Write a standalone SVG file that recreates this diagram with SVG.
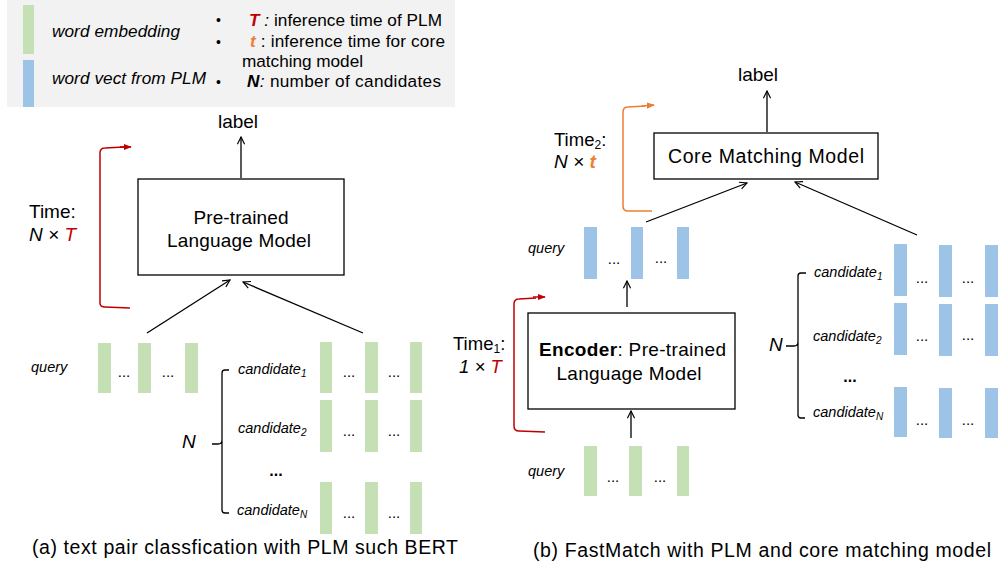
<svg xmlns="http://www.w3.org/2000/svg" width="998" height="568" viewBox="0 0 998 568">
<defs>
<style>
text{font-family:"Liberation Sans",Arial,sans-serif;fill:#000}
.it{font-style:italic}
.g{fill:#c5e0b4}
.b{fill:#9dc3e6}
.box{fill:#fff;stroke:#000;stroke-width:1.3}
.con{fill:none;stroke:#000;stroke-width:1.3;marker-end:url(#open)}
.brk{fill:none;stroke:#000;stroke-width:1.3}
.dots{font-size:15px}
.cand{font-size:14.5px;font-style:italic}
.leg{font-size:17.2px}
</style>
<marker id="open" viewBox="0 0 10 10" refX="9" refY="5" markerWidth="9" markerHeight="9" markerUnits="userSpaceOnUse" orient="auto">
<path d="M1,1 L9,5 L1,9" fill="none" stroke="#000" stroke-width="1.3"/>
</marker>
<marker id="redh" viewBox="0 0 10 10" refX="9" refY="5" markerWidth="8" markerHeight="8" markerUnits="userSpaceOnUse" orient="auto">
<path d="M0,1 L10,5 L0,9 z" fill="#c00000"/>
</marker>
<marker id="orh" viewBox="0 0 10 10" refX="9" refY="5" markerWidth="8" markerHeight="8" markerUnits="userSpaceOnUse" orient="auto">
<path d="M0,1 L10,5 L0,9 z" fill="#ed7d31"/>
</marker>
</defs>

<g id="legend">
<rect x="7" y="0" width="448" height="107" fill="#f2f2f2"/>
<rect x="23" y="5" width="11" height="49" class="g"/>
<rect x="23" y="60" width="11" height="47" class="b"/>
<text x="52" y="37" class="leg it" textLength="128">word embedding</text>
<text x="52" y="84" class="leg it" textLength="154">word vect from PLM</text>
<text x="216" y="25" font-size="14">•</text>
<text x="216" y="47" font-size="14">•</text>
<text x="216" y="87" font-size="14">•</text>
<text x="249" y="26" class="leg" textLength="193"><tspan fill="#c00000" font-weight="bold" font-style="italic">T</tspan><tspan font-style="italic"> :</tspan> inference time of PLM</text>
<text x="250" y="47" class="leg" textLength="195"><tspan fill="#ed7d31" font-weight="bold" font-style="italic">t</tspan> : inference time for core</text>
<text x="242" y="67" class="leg" textLength="121">matching model</text>
<text x="247" y="87" class="leg" textLength="194"><tspan font-weight="bold" font-style="italic">N</tspan><tspan font-style="italic">:</tspan> number  of candidates</text>
</g>

<!-- Part (a) -->
<g id="a-label"><text x="238" y="128" font-size="19" text-anchor="middle">label</text></g>
<g id="a-plm">
<rect x="138" y="179" width="206" height="96" class="box"/>
<text x="241" y="224" font-size="19" text-anchor="middle" textLength="95">Pre-trained</text>
<text x="239" y="247" font-size="19" text-anchor="middle" textLength="144">Language Model</text>
</g>
<g id="a-time">
<path d="M124,147 L105,148 Q100,148 100,153 L100,303 Q100,307 105,307 L130,308" fill="none" stroke="#c00000" stroke-width="1.5"/>
<path d="M120,147 L131,147" fill="none" stroke="#c00000" stroke-width="1.5" marker-end="url(#redh)"/>
<text x="29" y="218" font-size="19">Time:</text>
<text x="29" y="241" font-size="19" class="it">N × <tspan fill="#c00000">T</tspan></text>
</g>
<g id="a-query">
<text x="31" y="372" class="cand">query</text>
<rect x="98" y="343" width="13" height="50" class="g"/>
<rect x="138" y="343" width="13" height="50" class="g"/>
<rect x="185" y="343" width="13" height="50" class="g"/>
<text x="124" y="377" class="dots" text-anchor="middle">...</text>
<text x="168" y="377" class="dots" text-anchor="middle">...</text>
</g>
<g id="a-candidates">
<text x="182" y="448" font-size="19" class="it">N</text>
<path d="M229,370 L225,370 Q222,370 222,373 L222,510 Q222,513 225,513 L229,513 M212,444 L218,444 Q222,444 222,440" class="brk"/>
<text x="238" y="374" class="cand">candidate<tspan font-size="10" dy="3">1</tspan></text>
<text x="238" y="433" class="cand">candidate<tspan font-size="10" dy="3">2</tspan></text>
<text x="276" y="476" font-size="16" font-weight="bold" text-anchor="middle">...</text>
<text x="237" y="515" class="cand">candidate<tspan font-size="10" dy="3">N</tspan></text>
<rect x="320" y="342" width="12" height="51" class="g"/>
<rect x="365" y="342" width="13" height="51" class="g"/>
<rect x="410" y="342" width="12" height="51" class="g"/>
<text x="349" y="377" class="dots" text-anchor="middle">...</text>
<text x="394" y="377" class="dots" text-anchor="middle">...</text>
<rect x="320" y="400" width="12" height="52" class="g"/>
<rect x="365" y="400" width="13" height="52" class="g"/>
<rect x="410" y="400" width="12" height="52" class="g"/>
<text x="349" y="436" class="dots" text-anchor="middle">...</text>
<text x="394" y="436" class="dots" text-anchor="middle">...</text>
<rect x="320" y="482" width="12" height="52" class="g"/>
<rect x="365" y="482" width="13" height="52" class="g"/>
<rect x="410" y="482" width="12" height="52" class="g"/>
<text x="349" y="518" class="dots" text-anchor="middle">...</text>
<text x="394" y="518" class="dots" text-anchor="middle">...</text>
</g>
<g id="a-caption"><text x="32" y="554" font-size="19.5" textLength="426">(a) text pair classfication with PLM such BERT</text></g>

<!-- Part (b) -->
<g id="b-label"><text x="758" y="81" font-size="19" text-anchor="middle">label</text></g>
<g id="b-core">
<rect x="654" y="133" width="224" height="46" class="box"/>
<text x="766" y="163" font-size="19.5" text-anchor="middle" textLength="196">Core Matching Model</text>
</g>
<g id="b-time2">
<path d="M652,211 L628,211 Q623,211 623,206 L623,112 Q623,107 628,107 L645,106" fill="none" stroke="#ed7d31" stroke-width="1.5"/>
<path d="M642,106 L654,105" fill="none" stroke="#ed7d31" stroke-width="1.5" marker-end="url(#orh)"/>
<text x="554" y="146" font-size="18.5">Time<tspan font-size="12" dy="3">2</tspan><tspan dy="-3">:</tspan></text>
<text x="554" y="168" font-size="19" class="it">N × <tspan fill="#ed7d31" font-weight="bold">t</tspan></text>
</g>
<g id="b-query-vec">
<text x="528" y="253" class="cand">query</text>
<rect x="584" y="227" width="13" height="52" class="b"/>
<rect x="631" y="227" width="12" height="52" class="b"/>
<rect x="677" y="227" width="12" height="52" class="b"/>
<text x="614" y="264" class="dots" text-anchor="middle">...</text>
<text x="661" y="263" class="dots" text-anchor="middle">...</text>
</g>
<g id="b-encoder">
<rect x="528" y="313" width="207" height="96" class="box"/>
<text x="539" y="356" font-size="19" textLength="187"><tspan font-weight="bold">Encoder</tspan>: Pre-trained</text>
<text x="629" y="380" font-size="19" text-anchor="middle" textLength="145">Language Model</text>
</g>
<g id="b-time1">
<path d="M545,432 L519,431 Q514,431 514,426 L514,304 Q514,299 519,299 L536,298" fill="none" stroke="#c00000" stroke-width="1.5"/>
<path d="M533,297 L545,297" fill="none" stroke="#c00000" stroke-width="1.5" marker-end="url(#redh)"/>
<text x="453" y="350" font-size="18.5">Time<tspan font-size="12" dy="3">1</tspan><tspan dy="-3">:</tspan></text>
<text x="459" y="373" font-size="18.5" class="it">1 × <tspan fill="#c00000">T</tspan></text>
</g>
<g id="b-query-emb">
<text x="528" y="476" class="cand">query</text>
<rect x="584" y="446" width="13" height="50" class="g"/>
<rect x="629" y="446" width="13" height="50" class="g"/>
<rect x="677" y="446" width="12" height="50" class="g"/>
<text x="613" y="482" class="dots" text-anchor="middle">...</text>
<text x="660" y="482" class="dots" text-anchor="middle">...</text>
</g>
<g id="b-candidates">
<text x="769" y="351" font-size="19" class="it">N</text>
<path d="M806,273 L801,273 Q798,273 798,276 L798,415 Q798,418 801,418 L805,418 M786,346 L794,346 Q798,346 798,342" class="brk"/>
<text x="814" y="277" class="cand">candidate<tspan font-size="10" dy="3">1</tspan></text>
<text x="813" y="341" class="cand">candidate<tspan font-size="10" dy="3">2</tspan></text>
<text x="850" y="382" font-size="16" font-weight="bold" text-anchor="middle">...</text>
<text x="813" y="417" class="cand">candidate<tspan font-size="10" dy="3">N</tspan></text>
<rect x="894" y="244" width="13" height="52" class="b"/>
<rect x="939" y="245" width="13" height="52" class="b"/>
<rect x="985" y="245" width="13" height="52" class="b"/>
<text x="922" y="283" class="dots" text-anchor="middle">...</text>
<text x="968" y="283" class="dots" text-anchor="middle">...</text>
<rect x="894" y="303" width="13" height="52" class="b"/>
<rect x="939" y="304" width="13" height="52" class="b"/>
<rect x="985" y="304" width="13" height="52" class="b"/>
<text x="922" y="341" class="dots" text-anchor="middle">...</text>
<text x="968" y="340" class="dots" text-anchor="middle">...</text>
<rect x="894" y="387" width="13" height="50" class="b"/>
<rect x="939" y="388" width="13" height="50" class="b"/>
<rect x="985" y="388" width="13" height="50" class="b"/>
<text x="922" y="425" class="dots" text-anchor="middle">...</text>
<text x="968" y="425" class="dots" text-anchor="middle">...</text>
</g>
<g id="b-caption"><text x="533" y="557" font-size="19.5" textLength="458">(b) FastMatch with PLM and core matching model</text></g>

<g id="connectors">
<path d="M241,178 L241,137" class="con"/>
<path d="M147,333 L230,280" class="con"/>
<path d="M363,333 L243,282" class="con"/>
<path d="M767,132 L767,91" class="con"/>
<path d="M646,222 L747,183" class="con"/>
<path d="M917,235 L795,182" class="con"/>
<path d="M627,307 L627,281" class="con"/>
<path d="M631,438 L631,411" class="con"/>
</g>
</svg>
